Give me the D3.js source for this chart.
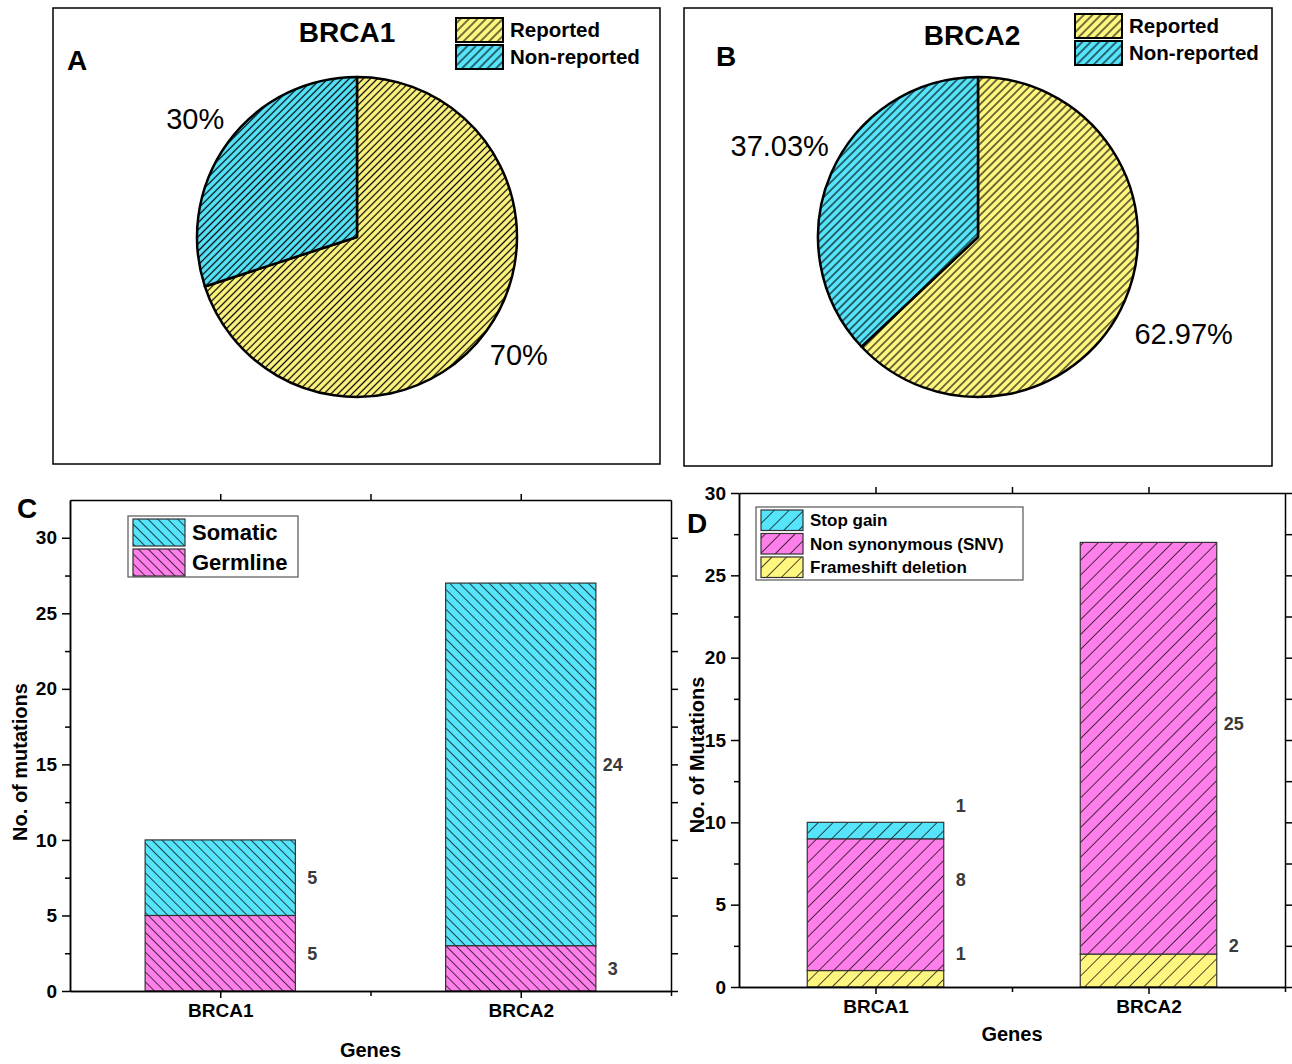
<!DOCTYPE html>
<html>
<head>
<meta charset="utf-8">
<script src="https://cdn.jsdelivr.net/npm/d3@7"></script>
<style>
body { margin: 0; background: #fff; }
text { font-family: "Liberation Sans", Arial, sans-serif; }
</style>
</head>
<body>
<script>
// pie data (Reported first, then Non-reported)
const pieLabels = ["Reported", "Non-reported"];
const brca1Pie = [70, 30];
const brca2Pie = [62.97, 37.03];
const brca1PieText = ["70%", "30%"];
const brca2PieText = ["62.97%", "37.03%"];

// bar data
const genes = ["BRCA1", "BRCA2"];
const germline = [5, 3];
const somatic = [5, 24];
const frameshift = [1, 2];
const nonSyn = [8, 25];
const stopGain = [1, 0];
const yTicks = [0, 5, 10, 15, 20, 25, 30];
const yMinor = [2.5, 7.5, 12.5, 17.5, 22.5, 27.5];

const cyan = "#55E4FA", pink = "#FF7FEA", yellow = "#FFF67F";
const FONT = "'Liberation Sans', Arial, sans-serif";

const svg = d3.select("body").append("svg")
	.attr("width", 1292)
	.attr("height", 1064);
const defs = svg.append("defs");

// hatch fill: vertical lines rotated; +45 gives "/" and -45 gives "\"
function hatch(id, color, gap, angle, sw) {
	const p = defs.append("pattern")
		.attr("id", id)
		.attr("patternUnits", "userSpaceOnUse")
		.attr("width", gap)
		.attr("height", gap)
		.attr("patternTransform", `rotate(${angle})`);
	p.append("rect").attr("width", gap).attr("height", gap).attr("fill", color);
	p.append("line")
		.attr("x1", gap / 2).attr("x2", gap / 2)
		.attr("y1", -1).attr("y2", gap + 1)
		.attr("stroke", "#000")
		.attr("stroke-width", sw);
}
hatch("pieY1", yellow, 5, 45, 1.25);
hatch("pieC1", cyan, 5, 45, 1.25);
hatch("pieY2", yellow, 5.6, 45, 1.1);
hatch("pieC2", cyan, 5.6, 45, 1.1);
hatch("legY", yellow, 6, 45, 1.1);
hatch("legC", cyan, 6, 45, 1.1);
hatch("barCc", cyan, 7, -45, 0.7);
hatch("barCp", pink, 7, -45, 0.7);
hatch("barDc", cyan, 10.5, 45, 0.7);
hatch("barDp", pink, 10.5, 45, 0.7);
hatch("barDy", yellow, 10.5, 45, 0.7);

function drawPie(o) {
	const g = svg.append("g");
	g.append("rect")
		.attr("x", o.box[0]).attr("y", o.box[1])
		.attr("width", o.box[2]).attr("height", o.box[3])
		.attr("fill", "none").attr("stroke", "#000").attr("stroke-width", 1.5);

	g.append("text").attr("x", o.title[0]).attr("y", o.title[1])
		.attr("text-anchor", "middle").style("font-size", "28px").style("font-weight", "bold")
		.text(o.name);
	g.append("text").attr("x", o.letter[0]).attr("y", o.letter[1])
		.style("font-size", "28px").style("font-weight", "bold")
		.text(o.letterText);

	const arcs = d3.pie().sort(null)(o.values);
	const arc = d3.arc().innerRadius(0).outerRadius(o.r);
	const pg = g.append("g").attr("transform", `translate(${o.cx},${o.cy})`);
	pg.selectAll("path").data(arcs).join("path")
		.attr("d", arc)
		.attr("fill", (d, i) => `url(#${o.pats[i]})`)
		.attr("stroke", "#000")
		.attr("stroke-width", 2.5)
		.attr("stroke-linejoin", "round");
	pg.selectAll("text").data(arcs).join("text")
		.attr("transform", (d, i) => {
			const la = d3.arc().innerRadius(o.lr[i]).outerRadius(o.lr[i]);
			const c = la.centroid(d);
			return `translate(${c[0]},${c[1] + o.ldy[i]})`;
		})
		.attr("text-anchor", "middle")
		.attr("dy", "0.36em")
		.style("font-size", "29px")
		.text((d, i) => o.texts[i]);

	// legend
	const lg = g.append("g");
	pieLabels.forEach((lab, i) => {
		const yy = o.leg[1] + i * 27;
		lg.append("rect").attr("x", o.leg[0]).attr("y", yy)
			.attr("width", 47).attr("height", 24)
			.attr("fill", `url(#${i === 0 ? "legY" : "legC"})`)
			.attr("stroke", "#000").attr("stroke-width", 2);
		lg.append("text").attr("x", o.leg[0] + 54).attr("y", yy + 12).attr("dy", "0.36em")
			.style("font-size", "20.5px").style("font-weight", "bold")
			.text(lab);
	});
}

drawPie({
	box: [53, 8, 607, 456], name: "BRCA1", title: [347, 42], letter: [67, 70], letterText: "A",
	cx: 357, cy: 237, r: 160, lr: [200, 200], ldy: [0, -1], values: brca1Pie, texts: brca1PieText,
	pats: ["pieY1", "pieC1"], leg: [456, 18]
});
drawPie({
	box: [684, 8, 588, 458], name: "BRCA2", title: [972, 45], letter: [716, 66], letterText: "B",
	cx: 978, cy: 237, r: 160, lr: [224, 216], ldy: [8, -6], values: brca2Pie, texts: brca2PieText,
	pats: ["pieY2", "pieC2"], leg: [1075, 14]
});

function styleAxis(sel, size) {
	sel.attr("font-family", FONT).attr("font-size", size).attr("font-weight", "bold");
	sel.selectAll("path, line").attr("stroke", "#000").attr("stroke-width", 1.5);
}

function drawBars(o) {
	const g = svg.append("g");
	const x = d3.scaleLinear().domain([0.5, 2.5]).range([o.x0, o.x1]);
	const y = d3.scaleLinear().domain([0, o.ymax]).range([o.y0, o.y1]);

	// stacked segments, bottom first
	genes.forEach((gene, gi) => {
		let base = 0;
		o.series.forEach(s => {
			const v = s.values[gi];
			if (v > 0) {
				g.append("rect")
					.attr("x", x(gi + 0.75))
					.attr("width", x(gi + 1.25) - x(gi + 0.75))
					.attr("y", y(base + v))
					.attr("height", y(base) - y(base + v))
					.attr("fill", `url(#${s.pat})`)
					.attr("stroke", "#333")
					.attr("stroke-width", 1.2);
				g.append("text")
					.attr("x", x(gi + 1.25) + 17)
					.attr("y", y(base + v / 2) - o.labelShift)
					.attr("dy", "0.36em")
					.attr("text-anchor", "middle")
					.style("font-size", "18px").style("font-weight", "bold").style("fill", "#3a3a3a")
					.text(v);
			}
			base += v;
		});
	});

	// axes
	styleAxis(g.append("g").attr("transform", `translate(${o.x0},0)`)
		.call(d3.axisLeft(y).tickValues(yTicks).tickSize(8).tickSizeOuter(0).tickPadding(5)), 19);
	styleAxis(g.append("g").attr("transform", `translate(${o.x0},0)`)
		.call(d3.axisLeft(y).tickValues(yMinor).tickSize(5).tickSizeOuter(0).tickFormat("")), 19);
	styleAxis(g.append("g").attr("transform", `translate(${o.x1},0)`)
		.call(d3.axisRight(y).tickValues(yTicks.concat(yMinor)).tickSize(7).tickSizeOuter(0).tickFormat("")), 19);
	styleAxis(g.append("g").attr("transform", `translate(0,${o.y0})`)
		.call(d3.axisBottom(x).tickValues([1, 2]).tickSize(7).tickSizeOuter(0).tickPadding(6)
			.tickFormat(d => genes[d - 1])), 19);
	styleAxis(g.append("g").attr("transform", `translate(0,${o.y0})`)
		.call(d3.axisBottom(x).tickValues([1.5, 2.5]).tickSize(5).tickSizeOuter(0).tickFormat("")), 19);
	styleAxis(g.append("g").attr("transform", `translate(0,${o.y1})`)
		.call(d3.axisTop(x).tickValues([1, 1.5, 2]).tickSize(6).tickSizeOuter(0).tickFormat("")), 19);

	g.append("text").attr("x", (o.x0 + o.x1) / 2).attr("y", o.genesY)
		.attr("text-anchor", "middle").attr("dy", "0.36em")
		.style("font-size", "20px").style("font-weight", "bold").text("Genes");
	g.append("text")
		.attr("transform", `translate(${o.ylab[0]},${o.ylab[1]}) rotate(-90)`)
		.attr("text-anchor", "middle").attr("dy", "0.36em")
		.style("font-size", "20px").style("font-weight", "bold").text(o.yTitle);
	g.append("text").attr("x", o.letter[0]).attr("y", o.letter[1])
		.style("font-size", "28px").style("font-weight", "bold").text(o.letterText);

	// legend, top entry first
	const L = o.legend;
	g.append("rect").attr("x", L.x).attr("y", L.y).attr("width", L.w).attr("height", L.h)
		.attr("fill", "#fff").attr("stroke", "#555").attr("stroke-width", 1.2);
	o.series.slice().reverse().forEach((s, i) => {
		const yy = L.y + 3 + i * L.step;
		g.append("rect").attr("x", L.x + 5).attr("y", yy)
			.attr("width", L.sw).attr("height", L.step - 3)
			.attr("fill", `url(#${s.pat})`).attr("stroke", "#333").attr("stroke-width", 1.2);
		g.append("text").attr("x", L.x + L.sw + 12).attr("y", yy + (L.step - 3) / 2).attr("dy", "0.36em")
			.style("font-size", L.font + "px").style("font-weight", "bold").text(s.name);
	});
}

drawBars({
	x0: 70, x1: 671, y0: 991, y1: 500, ymax: 32.5, labelShift: 0,
	series: [
		{ name: "Germline", values: germline, pat: "barCp" },
		{ name: "Somatic", values: somatic, pat: "barCc" }
	],
	genesY: 1050, ylab: [20, 762], yTitle: "No. of mutations", letter: [17, 518], letterText: "C",
	legend: { x: 128, y: 516, w: 170, h: 61, step: 30, sw: 52, font: 22 }
});

drawBars({
	x0: 739, x1: 1285, y0: 987, y1: 493, ymax: 30, labelShift: 25,
	series: [
		{ name: "Frameshift deletion", values: frameshift, pat: "barDy" },
		{ name: "Non synonymous (SNV)", values: nonSyn, pat: "barDp" },
		{ name: "Stop gain", values: stopGain, pat: "barDc" }
	],
	genesY: 1034, ylab: [697, 755], yTitle: "No. of Mutations", letter: [687, 533], letterText: "D",
	legend: { x: 756, y: 507, w: 267, h: 73, step: 23.5, sw: 42, font: 17 }
});
</script>
</body>
</html>
